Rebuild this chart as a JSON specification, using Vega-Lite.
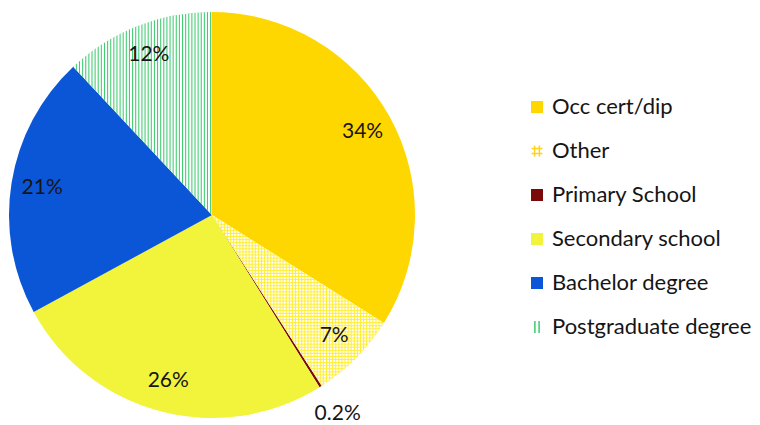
{
  "$schema": "https://vega.github.io/schema/vega-lite/v6.json",
  "width": 406,
  "height": 406,
  "autosize": {"type": "none"},
  "padding": {"left": 9, "top": 12, "right": 345, "bottom": 7},
  "background": "white",
  "config": {"view": {"stroke": null}},
  "data": {
    "values": [
      {"cat": "Occ cert/dip", "pct": 34, "label": "34%", "idx": 1},
      {"cat": "Other", "pct": 7, "label": "7%", "idx": 2},
      {"cat": "Primary School", "pct": 0.2, "label": "0.2%", "idx": 3},
      {"cat": "Secondary school", "pct": 26, "label": "26%", "idx": 4},
      {"cat": "Bachelor degree", "pct": 21, "label": "21%", "idx": 5},
      {"cat": "Postgraduate degree", "pct": 12, "label": "12%", "idx": 6}
    ]
  },
  "encoding": {
    "theta": {"field": "pct", "type": "quantitative", "stack": true},
    "order": {"field": "idx", "type": "quantitative"}
  },
  "layer": [
    {
      "mark": {"type": "arc", "outerRadius": 203},
      "encoding": {
        "color": {
          "field": "cat",
          "type": "nominal",
          "scale": {
            "domain": ["Occ cert/dip", "Other", "Primary School", "Secondary school", "Bachelor degree", "Postgraduate degree"],
            "range": ["#FFD700", "#FFF08E", "#7A0A0A", "#F2F43C", "#0B55D7", "#B0EAC4"]
          },
          "legend": {
            "orient": "none",
            "legendX": 517,
            "legendY": 84,
            "title": null,
            "symbolType": "square",
            "symbolSize": 144,
            "labelFont": "Lato",
            "labelFontSize": 22,
            "labelLimit": 300,
            "labelColor": "#151515",
            "labelOffset": 4,
            "rowPadding": 22,
            "padding": 0,
            "encode": {
              "symbols": {
                "update": {
                  "shape": [
                    {"test": "datum.value === 'Other'", "value": "M-0.4,-0.9V0.9M0.4,-0.9V0.9M-0.9,-0.4H0.9M-0.9,0.4H0.9"},
                    {"test": "datum.value === 'Postgraduate degree'", "value": "M-0.35,-1V1M0.35,-1V1"},
                    {"value": "square"}
                  ],
                  "fill": [
                    {"test": "datum.value === 'Other' || datum.value === 'Postgraduate degree'", "value": "transparent"},
                    {"scale": "color", "field": "value"}
                  ],
                  "stroke": [
                    {"test": "datum.value === 'Other'", "value": "#FFD21E"},
                    {"test": "datum.value === 'Postgraduate degree'", "value": "#3CCB6E"},
                    {"value": "transparent"}
                  ],
                  "strokeWidth": {"value": 1.5}
                }
              }
            }
          }
        }
      }
    },
    {
      "mark": {"type": "arc", "outerRadius": 203},
      "encoding": {
        "fill": {
          "condition": [
            {
              "test": "datum.cat === 'Postgraduate degree'",
              "value": {
                "gradient": "linear", "x1": 0, "x2": 1, "y1": 0, "y2": 0,
                "stops": [
                  {"offset": 0, "color": "#3CCB6E"}, {"offset": 0.0075, "color": "#fff"}, {"offset": 0.015, "color": "#fff"},
                  {"offset": 0.0225, "color": "#3CCB6E"}, {"offset": 0.03, "color": "#fff"}, {"offset": 0.0375, "color": "#fff"},
                  {"offset": 0.045, "color": "#3CCB6E"}, {"offset": 0.0525, "color": "#fff"}, {"offset": 0.06, "color": "#fff"},
                  {"offset": 0.0675, "color": "#3CCB6E"}, {"offset": 0.075, "color": "#fff"}, {"offset": 0.0825, "color": "#fff"},
                  {"offset": 0.09, "color": "#3CCB6E"}, {"offset": 0.0975, "color": "#fff"}, {"offset": 0.105, "color": "#fff"},
                  {"offset": 0.1125, "color": "#3CCB6E"}, {"offset": 0.12, "color": "#fff"}, {"offset": 0.1275, "color": "#fff"},
                  {"offset": 0.135, "color": "#3CCB6E"}, {"offset": 0.1425, "color": "#fff"}, {"offset": 0.15, "color": "#fff"},
                  {"offset": 0.1575, "color": "#3CCB6E"}, {"offset": 0.165, "color": "#fff"}, {"offset": 0.1725, "color": "#fff"},
                  {"offset": 0.18, "color": "#3CCB6E"}, {"offset": 0.1875, "color": "#fff"}, {"offset": 0.195, "color": "#fff"},
                  {"offset": 0.2025, "color": "#3CCB6E"}, {"offset": 0.21, "color": "#fff"}, {"offset": 0.2175, "color": "#fff"},
                  {"offset": 0.225, "color": "#3CCB6E"}, {"offset": 0.2325, "color": "#fff"}, {"offset": 0.24, "color": "#fff"},
                  {"offset": 0.2475, "color": "#3CCB6E"}, {"offset": 0.255, "color": "#fff"}, {"offset": 0.2625, "color": "#fff"},
                  {"offset": 0.27, "color": "#3CCB6E"}, {"offset": 0.2775, "color": "#fff"}, {"offset": 0.285, "color": "#fff"},
                  {"offset": 0.2925, "color": "#3CCB6E"}, {"offset": 0.3, "color": "#fff"}, {"offset": 0.3075, "color": "#fff"},
                  {"offset": 0.315, "color": "#3CCB6E"}, {"offset": 0.3225, "color": "#fff"}, {"offset": 0.33, "color": "#fff"},
                  {"offset": 0.3375, "color": "#3CCB6E"}, {"offset": 0.345, "color": "#fff"}, {"offset": 0.3525, "color": "#fff"},
                  {"offset": 0.36, "color": "#3CCB6E"}, {"offset": 0.3675, "color": "#fff"}, {"offset": 0.375, "color": "#fff"},
                  {"offset": 0.3825, "color": "#3CCB6E"}, {"offset": 0.39, "color": "#fff"}, {"offset": 0.3975, "color": "#fff"},
                  {"offset": 0.405, "color": "#3CCB6E"}, {"offset": 0.4125, "color": "#fff"}, {"offset": 0.42, "color": "#fff"},
                  {"offset": 0.4275, "color": "#3CCB6E"}, {"offset": 0.435, "color": "#fff"}, {"offset": 0.4425, "color": "#fff"},
                  {"offset": 0.45, "color": "#3CCB6E"}, {"offset": 0.4575, "color": "#fff"}, {"offset": 0.465, "color": "#fff"},
                  {"offset": 0.4725, "color": "#3CCB6E"}, {"offset": 0.48, "color": "#fff"}, {"offset": 0.4875, "color": "#fff"},
                  {"offset": 0.495, "color": "#3CCB6E"}, {"offset": 0.5025, "color": "#fff"}, {"offset": 0.51, "color": "#fff"},
                  {"offset": 0.5175, "color": "#3CCB6E"}, {"offset": 0.525, "color": "#fff"}, {"offset": 0.5325, "color": "#fff"},
                  {"offset": 0.54, "color": "#3CCB6E"}, {"offset": 0.5475, "color": "#fff"}, {"offset": 0.555, "color": "#fff"},
                  {"offset": 0.5625, "color": "#3CCB6E"}, {"offset": 0.57, "color": "#fff"}, {"offset": 0.5775, "color": "#fff"},
                  {"offset": 0.585, "color": "#3CCB6E"}, {"offset": 0.5925, "color": "#fff"}, {"offset": 0.6, "color": "#fff"},
                  {"offset": 0.6075, "color": "#3CCB6E"}, {"offset": 0.615, "color": "#fff"}, {"offset": 0.6225, "color": "#fff"},
                  {"offset": 0.63, "color": "#3CCB6E"}, {"offset": 0.6375, "color": "#fff"}, {"offset": 0.645, "color": "#fff"},
                  {"offset": 0.6525, "color": "#3CCB6E"}, {"offset": 0.66, "color": "#fff"}, {"offset": 0.6675, "color": "#fff"},
                  {"offset": 0.675, "color": "#3CCB6E"}, {"offset": 0.6825, "color": "#fff"}, {"offset": 0.69, "color": "#fff"},
                  {"offset": 0.6975, "color": "#3CCB6E"}, {"offset": 0.705, "color": "#fff"}, {"offset": 0.7125, "color": "#fff"},
                  {"offset": 0.72, "color": "#3CCB6E"}, {"offset": 0.7275, "color": "#fff"}, {"offset": 0.735, "color": "#fff"},
                  {"offset": 0.7425, "color": "#3CCB6E"}, {"offset": 0.75, "color": "#fff"}, {"offset": 0.7575, "color": "#fff"},
                  {"offset": 0.765, "color": "#3CCB6E"}, {"offset": 0.7725, "color": "#fff"}, {"offset": 0.78, "color": "#fff"},
                  {"offset": 0.7875, "color": "#3CCB6E"}, {"offset": 0.795, "color": "#fff"}, {"offset": 0.8025, "color": "#fff"},
                  {"offset": 0.81, "color": "#3CCB6E"}, {"offset": 0.8175, "color": "#fff"}, {"offset": 0.825, "color": "#fff"},
                  {"offset": 0.8325, "color": "#3CCB6E"}, {"offset": 0.84, "color": "#fff"}, {"offset": 0.8475, "color": "#fff"},
                  {"offset": 0.855, "color": "#3CCB6E"}, {"offset": 0.8625, "color": "#fff"}, {"offset": 0.87, "color": "#fff"},
                  {"offset": 0.8775, "color": "#3CCB6E"}, {"offset": 0.885, "color": "#fff"}, {"offset": 0.8925, "color": "#fff"},
                  {"offset": 0.9, "color": "#3CCB6E"}, {"offset": 0.9075, "color": "#fff"}, {"offset": 0.915, "color": "#fff"},
                  {"offset": 0.9225, "color": "#3CCB6E"}, {"offset": 0.93, "color": "#fff"}, {"offset": 0.9375, "color": "#fff"},
                  {"offset": 0.945, "color": "#3CCB6E"}, {"offset": 0.9525, "color": "#fff"}, {"offset": 0.96, "color": "#fff"},
                  {"offset": 0.9675, "color": "#3CCB6E"}, {"offset": 0.975, "color": "#fff"}, {"offset": 0.9825, "color": "#fff"},
                  {"offset": 0.99, "color": "#3CCB6E"}, {"offset": 0.9975, "color": "#fff"}, {"offset": 1, "color": "#fff"}
                ]
              }
            },
            {
              "test": "datum.cat === 'Other'",
              "value": {
                "gradient": "linear", "x1": 0, "x2": 1, "y1": 0, "y2": 0,
                "stops": [
                  {"offset": 0, "color": "#fe3"}, {"offset": 0.006, "color": "#fff"}, {"offset": 0.012, "color": "#fff"},
                  {"offset": 0.018, "color": "#fe3"}, {"offset": 0.024, "color": "#fff"}, {"offset": 0.03, "color": "#fff"},
                  {"offset": 0.036, "color": "#fe3"}, {"offset": 0.042, "color": "#fff"}, {"offset": 0.048, "color": "#fff"},
                  {"offset": 0.054, "color": "#fe3"}, {"offset": 0.06, "color": "#fff"}, {"offset": 0.066, "color": "#fff"},
                  {"offset": 0.072, "color": "#fe3"}, {"offset": 0.078, "color": "#fff"}, {"offset": 0.084, "color": "#fff"},
                  {"offset": 0.09, "color": "#fe3"}, {"offset": 0.096, "color": "#fff"}, {"offset": 0.102, "color": "#fff"},
                  {"offset": 0.108, "color": "#fe3"}, {"offset": 0.114, "color": "#fff"}, {"offset": 0.12, "color": "#fff"},
                  {"offset": 0.126, "color": "#fe3"}, {"offset": 0.132, "color": "#fff"}, {"offset": 0.138, "color": "#fff"},
                  {"offset": 0.144, "color": "#fe3"}, {"offset": 0.15, "color": "#fff"}, {"offset": 0.156, "color": "#fff"},
                  {"offset": 0.162, "color": "#fe3"}, {"offset": 0.168, "color": "#fff"}, {"offset": 0.174, "color": "#fff"},
                  {"offset": 0.18, "color": "#fe3"}, {"offset": 0.186, "color": "#fff"}, {"offset": 0.192, "color": "#fff"},
                  {"offset": 0.198, "color": "#fe3"}, {"offset": 0.204, "color": "#fff"}, {"offset": 0.21, "color": "#fff"},
                  {"offset": 0.216, "color": "#fe3"}, {"offset": 0.222, "color": "#fff"}, {"offset": 0.228, "color": "#fff"},
                  {"offset": 0.234, "color": "#fe3"}, {"offset": 0.24, "color": "#fff"}, {"offset": 0.246, "color": "#fff"},
                  {"offset": 0.252, "color": "#fe3"}, {"offset": 0.258, "color": "#fff"}, {"offset": 0.264, "color": "#fff"},
                  {"offset": 0.27, "color": "#fe3"}, {"offset": 0.276, "color": "#fff"}, {"offset": 0.282, "color": "#fff"},
                  {"offset": 0.288, "color": "#fe3"}, {"offset": 0.294, "color": "#fff"}, {"offset": 0.3, "color": "#fff"},
                  {"offset": 0.306, "color": "#fe3"}, {"offset": 0.312, "color": "#fff"}, {"offset": 0.318, "color": "#fff"},
                  {"offset": 0.324, "color": "#fe3"}, {"offset": 0.33, "color": "#fff"}, {"offset": 0.336, "color": "#fff"},
                  {"offset": 0.342, "color": "#fe3"}, {"offset": 0.348, "color": "#fff"}, {"offset": 0.354, "color": "#fff"},
                  {"offset": 0.36, "color": "#fe3"}, {"offset": 0.366, "color": "#fff"}, {"offset": 0.372, "color": "#fff"},
                  {"offset": 0.378, "color": "#fe3"}, {"offset": 0.384, "color": "#fff"}, {"offset": 0.39, "color": "#fff"},
                  {"offset": 0.396, "color": "#fe3"}, {"offset": 0.402, "color": "#fff"}, {"offset": 0.408, "color": "#fff"},
                  {"offset": 0.414, "color": "#fe3"}, {"offset": 0.42, "color": "#fff"}, {"offset": 0.426, "color": "#fff"},
                  {"offset": 0.432, "color": "#fe3"}, {"offset": 0.438, "color": "#fff"}, {"offset": 0.444, "color": "#fff"},
                  {"offset": 0.45, "color": "#fe3"}, {"offset": 0.456, "color": "#fff"}, {"offset": 0.462, "color": "#fff"},
                  {"offset": 0.468, "color": "#fe3"}, {"offset": 0.474, "color": "#fff"}, {"offset": 0.48, "color": "#fff"},
                  {"offset": 0.486, "color": "#fe3"}, {"offset": 0.492, "color": "#fff"}, {"offset": 0.498, "color": "#fff"},
                  {"offset": 0.504, "color": "#fe3"}, {"offset": 0.51, "color": "#fff"}, {"offset": 0.516, "color": "#fff"},
                  {"offset": 0.522, "color": "#fe3"}, {"offset": 0.528, "color": "#fff"}, {"offset": 0.534, "color": "#fff"},
                  {"offset": 0.54, "color": "#fe3"}, {"offset": 0.546, "color": "#fff"}, {"offset": 0.552, "color": "#fff"},
                  {"offset": 0.558, "color": "#fe3"}, {"offset": 0.564, "color": "#fff"}, {"offset": 0.57, "color": "#fff"},
                  {"offset": 0.576, "color": "#fe3"}, {"offset": 0.582, "color": "#fff"}, {"offset": 0.588, "color": "#fff"},
                  {"offset": 0.594, "color": "#fe3"}, {"offset": 0.6, "color": "#fff"}, {"offset": 0.606, "color": "#fff"},
                  {"offset": 0.612, "color": "#fe3"}, {"offset": 0.618, "color": "#fff"}, {"offset": 0.624, "color": "#fff"},
                  {"offset": 0.63, "color": "#fe3"}, {"offset": 0.636, "color": "#fff"}, {"offset": 0.642, "color": "#fff"},
                  {"offset": 0.648, "color": "#fe3"}, {"offset": 0.654, "color": "#fff"}, {"offset": 0.66, "color": "#fff"},
                  {"offset": 0.666, "color": "#fe3"}, {"offset": 0.672, "color": "#fff"}, {"offset": 0.678, "color": "#fff"},
                  {"offset": 0.684, "color": "#fe3"}, {"offset": 0.69, "color": "#fff"}, {"offset": 0.696, "color": "#fff"},
                  {"offset": 0.702, "color": "#fe3"}, {"offset": 0.708, "color": "#fff"}, {"offset": 0.714, "color": "#fff"},
                  {"offset": 0.72, "color": "#fe3"}, {"offset": 0.726, "color": "#fff"}, {"offset": 0.732, "color": "#fff"},
                  {"offset": 0.738, "color": "#fe3"}, {"offset": 0.744, "color": "#fff"}, {"offset": 0.75, "color": "#fff"},
                  {"offset": 0.756, "color": "#fe3"}, {"offset": 0.762, "color": "#fff"}, {"offset": 0.768, "color": "#fff"},
                  {"offset": 0.774, "color": "#fe3"}, {"offset": 0.78, "color": "#fff"}, {"offset": 0.786, "color": "#fff"},
                  {"offset": 0.792, "color": "#fe3"}, {"offset": 0.798, "color": "#fff"}, {"offset": 0.804, "color": "#fff"},
                  {"offset": 0.81, "color": "#fe3"}, {"offset": 0.816, "color": "#fff"}, {"offset": 0.822, "color": "#fff"},
                  {"offset": 0.828, "color": "#fe3"}, {"offset": 0.834, "color": "#fff"}, {"offset": 0.84, "color": "#fff"},
                  {"offset": 0.846, "color": "#fe3"}, {"offset": 0.852, "color": "#fff"}, {"offset": 0.858, "color": "#fff"},
                  {"offset": 0.864, "color": "#fe3"}, {"offset": 0.87, "color": "#fff"}, {"offset": 0.876, "color": "#fff"},
                  {"offset": 0.882, "color": "#fe3"}, {"offset": 0.888, "color": "#fff"}, {"offset": 0.894, "color": "#fff"},
                  {"offset": 0.9, "color": "#fe3"}, {"offset": 0.906, "color": "#fff"}, {"offset": 0.912, "color": "#fff"},
                  {"offset": 0.918, "color": "#fe3"}, {"offset": 0.924, "color": "#fff"}, {"offset": 0.93, "color": "#fff"},
                  {"offset": 0.936, "color": "#fe3"}, {"offset": 0.942, "color": "#fff"}, {"offset": 0.948, "color": "#fff"},
                  {"offset": 0.954, "color": "#fe3"}, {"offset": 0.96, "color": "#fff"}, {"offset": 0.966, "color": "#fff"},
                  {"offset": 0.972, "color": "#fe3"}, {"offset": 0.978, "color": "#fff"}, {"offset": 0.984, "color": "#fff"},
                  {"offset": 0.99, "color": "#fe3"}, {"offset": 0.996, "color": "#fff"}, {"offset": 1, "color": "#fff"}
                ]
              }
            }
          ],
          "value": "transparent"
        }
      }
    },
    {
      "mark": {"type": "arc", "outerRadius": 203},
      "encoding": {
        "fill": {
          "condition": {
            "test": "datum.cat === 'Other'",
            "value": {
              "gradient": "linear", "x1": 0, "x2": 0, "y1": 0, "y2": 1,
              "stops": [
                {"offset": 0, "color": "#fe3"}, {"offset": 0.006, "color": "rgba(255,238,51,0)"}, {"offset": 0.012, "color": "rgba(255,238,51,0)"},
                {"offset": 0.018, "color": "#fe3"}, {"offset": 0.024, "color": "rgba(255,238,51,0)"}, {"offset": 0.03, "color": "rgba(255,238,51,0)"},
                {"offset": 0.036, "color": "#fe3"}, {"offset": 0.042, "color": "rgba(255,238,51,0)"}, {"offset": 0.048, "color": "rgba(255,238,51,0)"},
                {"offset": 0.054, "color": "#fe3"}, {"offset": 0.06, "color": "rgba(255,238,51,0)"}, {"offset": 0.066, "color": "rgba(255,238,51,0)"},
                {"offset": 0.072, "color": "#fe3"}, {"offset": 0.078, "color": "rgba(255,238,51,0)"}, {"offset": 0.084, "color": "rgba(255,238,51,0)"},
                {"offset": 0.09, "color": "#fe3"}, {"offset": 0.096, "color": "rgba(255,238,51,0)"}, {"offset": 0.102, "color": "rgba(255,238,51,0)"},
                {"offset": 0.108, "color": "#fe3"}, {"offset": 0.114, "color": "rgba(255,238,51,0)"}, {"offset": 0.12, "color": "rgba(255,238,51,0)"},
                {"offset": 0.126, "color": "#fe3"}, {"offset": 0.132, "color": "rgba(255,238,51,0)"}, {"offset": 0.138, "color": "rgba(255,238,51,0)"},
                {"offset": 0.144, "color": "#fe3"}, {"offset": 0.15, "color": "rgba(255,238,51,0)"}, {"offset": 0.156, "color": "rgba(255,238,51,0)"},
                {"offset": 0.162, "color": "#fe3"}, {"offset": 0.168, "color": "rgba(255,238,51,0)"}, {"offset": 0.174, "color": "rgba(255,238,51,0)"},
                {"offset": 0.18, "color": "#fe3"}, {"offset": 0.186, "color": "rgba(255,238,51,0)"}, {"offset": 0.192, "color": "rgba(255,238,51,0)"},
                {"offset": 0.198, "color": "#fe3"}, {"offset": 0.204, "color": "rgba(255,238,51,0)"}, {"offset": 0.21, "color": "rgba(255,238,51,0)"},
                {"offset": 0.216, "color": "#fe3"}, {"offset": 0.222, "color": "rgba(255,238,51,0)"}, {"offset": 0.228, "color": "rgba(255,238,51,0)"},
                {"offset": 0.234, "color": "#fe3"}, {"offset": 0.24, "color": "rgba(255,238,51,0)"}, {"offset": 0.246, "color": "rgba(255,238,51,0)"},
                {"offset": 0.252, "color": "#fe3"}, {"offset": 0.258, "color": "rgba(255,238,51,0)"}, {"offset": 0.264, "color": "rgba(255,238,51,0)"},
                {"offset": 0.27, "color": "#fe3"}, {"offset": 0.276, "color": "rgba(255,238,51,0)"}, {"offset": 0.282, "color": "rgba(255,238,51,0)"},
                {"offset": 0.288, "color": "#fe3"}, {"offset": 0.294, "color": "rgba(255,238,51,0)"}, {"offset": 0.3, "color": "rgba(255,238,51,0)"},
                {"offset": 0.306, "color": "#fe3"}, {"offset": 0.312, "color": "rgba(255,238,51,0)"}, {"offset": 0.318, "color": "rgba(255,238,51,0)"},
                {"offset": 0.324, "color": "#fe3"}, {"offset": 0.33, "color": "rgba(255,238,51,0)"}, {"offset": 0.336, "color": "rgba(255,238,51,0)"},
                {"offset": 0.342, "color": "#fe3"}, {"offset": 0.348, "color": "rgba(255,238,51,0)"}, {"offset": 0.354, "color": "rgba(255,238,51,0)"},
                {"offset": 0.36, "color": "#fe3"}, {"offset": 0.366, "color": "rgba(255,238,51,0)"}, {"offset": 0.372, "color": "rgba(255,238,51,0)"},
                {"offset": 0.378, "color": "#fe3"}, {"offset": 0.384, "color": "rgba(255,238,51,0)"}, {"offset": 0.39, "color": "rgba(255,238,51,0)"},
                {"offset": 0.396, "color": "#fe3"}, {"offset": 0.402, "color": "rgba(255,238,51,0)"}, {"offset": 0.408, "color": "rgba(255,238,51,0)"},
                {"offset": 0.414, "color": "#fe3"}, {"offset": 0.42, "color": "rgba(255,238,51,0)"}, {"offset": 0.426, "color": "rgba(255,238,51,0)"},
                {"offset": 0.432, "color": "#fe3"}, {"offset": 0.438, "color": "rgba(255,238,51,0)"}, {"offset": 0.444, "color": "rgba(255,238,51,0)"},
                {"offset": 0.45, "color": "#fe3"}, {"offset": 0.456, "color": "rgba(255,238,51,0)"}, {"offset": 0.462, "color": "rgba(255,238,51,0)"},
                {"offset": 0.468, "color": "#fe3"}, {"offset": 0.474, "color": "rgba(255,238,51,0)"}, {"offset": 0.48, "color": "rgba(255,238,51,0)"},
                {"offset": 0.486, "color": "#fe3"}, {"offset": 0.492, "color": "rgba(255,238,51,0)"}, {"offset": 0.498, "color": "rgba(255,238,51,0)"},
                {"offset": 0.504, "color": "#fe3"}, {"offset": 0.51, "color": "rgba(255,238,51,0)"}, {"offset": 0.516, "color": "rgba(255,238,51,0)"},
                {"offset": 0.522, "color": "#fe3"}, {"offset": 0.528, "color": "rgba(255,238,51,0)"}, {"offset": 0.534, "color": "rgba(255,238,51,0)"},
                {"offset": 0.54, "color": "#fe3"}, {"offset": 0.546, "color": "rgba(255,238,51,0)"}, {"offset": 0.552, "color": "rgba(255,238,51,0)"},
                {"offset": 0.558, "color": "#fe3"}, {"offset": 0.564, "color": "rgba(255,238,51,0)"}, {"offset": 0.57, "color": "rgba(255,238,51,0)"},
                {"offset": 0.576, "color": "#fe3"}, {"offset": 0.582, "color": "rgba(255,238,51,0)"}, {"offset": 0.588, "color": "rgba(255,238,51,0)"},
                {"offset": 0.594, "color": "#fe3"}, {"offset": 0.6, "color": "rgba(255,238,51,0)"}, {"offset": 0.606, "color": "rgba(255,238,51,0)"},
                {"offset": 0.612, "color": "#fe3"}, {"offset": 0.618, "color": "rgba(255,238,51,0)"}, {"offset": 0.624, "color": "rgba(255,238,51,0)"},
                {"offset": 0.63, "color": "#fe3"}, {"offset": 0.636, "color": "rgba(255,238,51,0)"}, {"offset": 0.642, "color": "rgba(255,238,51,0)"},
                {"offset": 0.648, "color": "#fe3"}, {"offset": 0.654, "color": "rgba(255,238,51,0)"}, {"offset": 0.66, "color": "rgba(255,238,51,0)"},
                {"offset": 0.666, "color": "#fe3"}, {"offset": 0.672, "color": "rgba(255,238,51,0)"}, {"offset": 0.678, "color": "rgba(255,238,51,0)"},
                {"offset": 0.684, "color": "#fe3"}, {"offset": 0.69, "color": "rgba(255,238,51,0)"}, {"offset": 0.696, "color": "rgba(255,238,51,0)"},
                {"offset": 0.702, "color": "#fe3"}, {"offset": 0.708, "color": "rgba(255,238,51,0)"}, {"offset": 0.714, "color": "rgba(255,238,51,0)"},
                {"offset": 0.72, "color": "#fe3"}, {"offset": 0.726, "color": "rgba(255,238,51,0)"}, {"offset": 0.732, "color": "rgba(255,238,51,0)"},
                {"offset": 0.738, "color": "#fe3"}, {"offset": 0.744, "color": "rgba(255,238,51,0)"}, {"offset": 0.75, "color": "rgba(255,238,51,0)"},
                {"offset": 0.756, "color": "#fe3"}, {"offset": 0.762, "color": "rgba(255,238,51,0)"}, {"offset": 0.768, "color": "rgba(255,238,51,0)"},
                {"offset": 0.774, "color": "#fe3"}, {"offset": 0.78, "color": "rgba(255,238,51,0)"}, {"offset": 0.786, "color": "rgba(255,238,51,0)"},
                {"offset": 0.792, "color": "#fe3"}, {"offset": 0.798, "color": "rgba(255,238,51,0)"}, {"offset": 0.804, "color": "rgba(255,238,51,0)"},
                {"offset": 0.81, "color": "#fe3"}, {"offset": 0.816, "color": "rgba(255,238,51,0)"}, {"offset": 0.822, "color": "rgba(255,238,51,0)"},
                {"offset": 0.828, "color": "#fe3"}, {"offset": 0.834, "color": "rgba(255,238,51,0)"}, {"offset": 0.84, "color": "rgba(255,238,51,0)"},
                {"offset": 0.846, "color": "#fe3"}, {"offset": 0.852, "color": "rgba(255,238,51,0)"}, {"offset": 0.858, "color": "rgba(255,238,51,0)"},
                {"offset": 0.864, "color": "#fe3"}, {"offset": 0.87, "color": "rgba(255,238,51,0)"}, {"offset": 0.876, "color": "rgba(255,238,51,0)"},
                {"offset": 0.882, "color": "#fe3"}, {"offset": 0.888, "color": "rgba(255,238,51,0)"}, {"offset": 0.894, "color": "rgba(255,238,51,0)"},
                {"offset": 0.9, "color": "#fe3"}, {"offset": 0.906, "color": "rgba(255,238,51,0)"}, {"offset": 0.912, "color": "rgba(255,238,51,0)"},
                {"offset": 0.918, "color": "#fe3"}, {"offset": 0.924, "color": "rgba(255,238,51,0)"}, {"offset": 0.93, "color": "rgba(255,238,51,0)"},
                {"offset": 0.936, "color": "#fe3"}, {"offset": 0.942, "color": "rgba(255,238,51,0)"}, {"offset": 0.948, "color": "rgba(255,238,51,0)"},
                {"offset": 0.954, "color": "#fe3"}, {"offset": 0.96, "color": "rgba(255,238,51,0)"}, {"offset": 0.966, "color": "rgba(255,238,51,0)"},
                {"offset": 0.972, "color": "#fe3"}, {"offset": 0.978, "color": "rgba(255,238,51,0)"}, {"offset": 0.984, "color": "rgba(255,238,51,0)"},
                {"offset": 0.99, "color": "#fe3"}, {"offset": 0.996, "color": "rgba(255,238,51,0)"}, {"offset": 1, "color": "rgba(255,238,51,0)"}
              ]
            }
          },
          "value": "transparent"
        }
      }
    },
    {
      "mark": {"type": "text", "radius": 172, "font": "Lato", "fontSize": 21, "fill": "#151515"},
      "encoding": {
        "text": {"field": "label", "type": "nominal", "condition": {"test": "datum.cat === 'Primary School'", "value": ""}}
      }
    },
    {
      "mark": {"type": "text", "radius": 235, "font": "Lato", "fontSize": 21, "fill": "#151515"},
      "encoding": {
        "text": {"field": "label", "type": "nominal", "condition": {"test": "datum.cat !== 'Primary School'", "value": ""}}
      }
    }
  ]
}
